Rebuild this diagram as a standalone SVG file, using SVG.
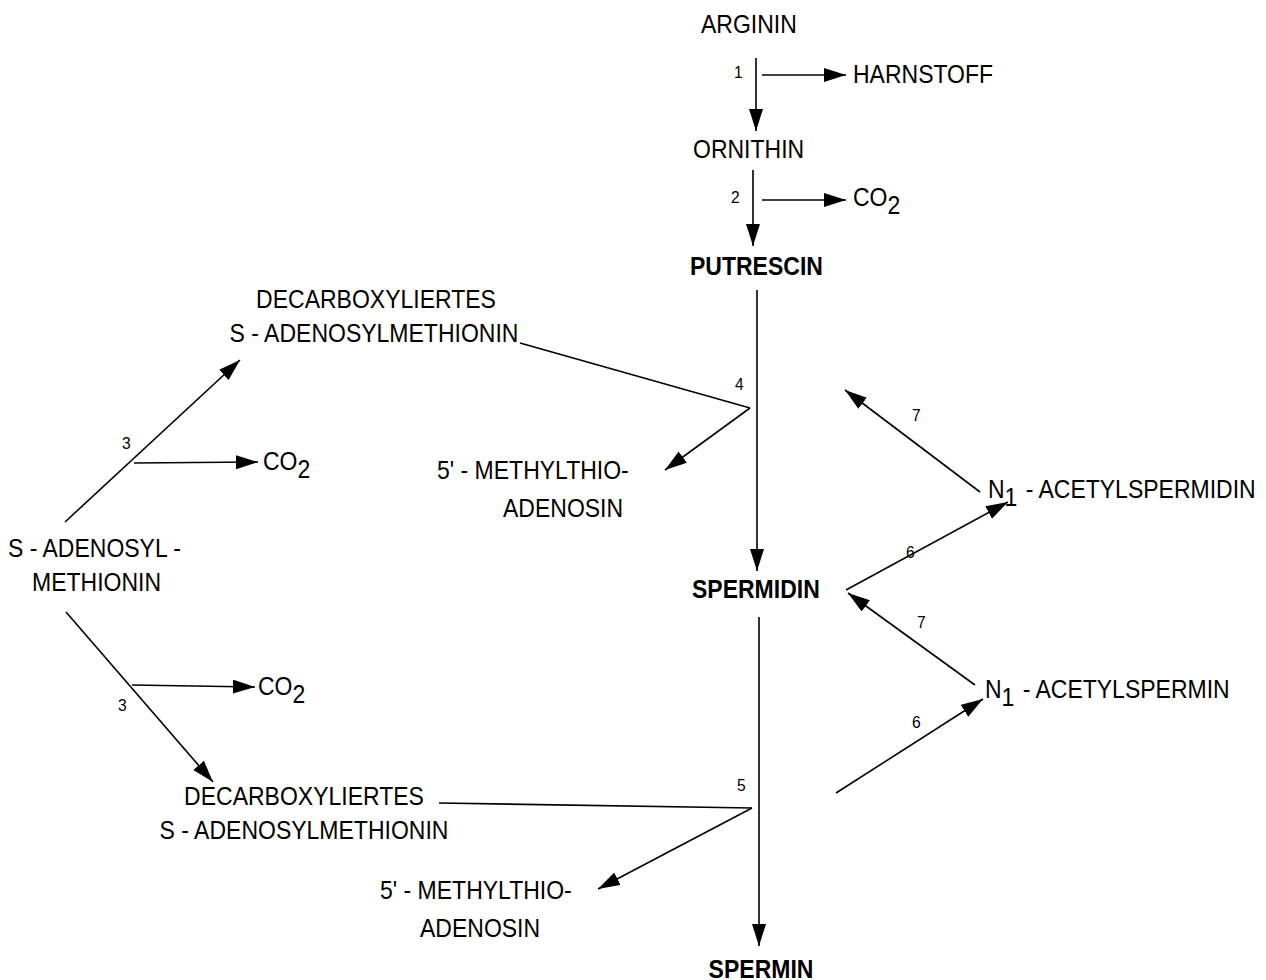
<svg xmlns="http://www.w3.org/2000/svg" width="1266" height="980" viewBox="0 0 1266 980">
<style>
text{font-family:"Liberation Sans",Arial,sans-serif;font-size:25px;fill:#000}
.b{font-weight:bold}
.n{font-size:17px}
.m{text-anchor:middle}
.c line{stroke:#000;stroke-width:1.6;fill:none}
</style>
<defs>
<marker id="ah" markerUnits="userSpaceOnUse" markerWidth="24" markerHeight="16" refX="22" refY="7" orient="auto">
<path d="M0,0 L22,7 L0,14 z" fill="#000"/>
</marker>
</defs>
<rect width="1266" height="980" fill="#fff"/>
<g class="c" id="connectors">
<line x1="756" y1="58" x2="756" y2="131" marker-end="url(#ah)"/>
<line x1="762" y1="75" x2="846" y2="75" marker-end="url(#ah)"/>
<line x1="753" y1="170" x2="753" y2="246" marker-end="url(#ah)"/>
<line x1="762" y1="200" x2="846" y2="200" marker-end="url(#ah)"/>
<line x1="757" y1="290" x2="757" y2="571" marker-end="url(#ah)"/>
<line x1="520" y1="343" x2="750" y2="408"/>
<line x1="750" y1="408" x2="665" y2="470" marker-end="url(#ah)"/>
<line x1="65" y1="522" x2="240" y2="360" marker-end="url(#ah)"/>
<line x1="134" y1="463" x2="258" y2="462" marker-end="url(#ah)"/>
<line x1="66" y1="612" x2="213" y2="782" marker-end="url(#ah)"/>
<line x1="132" y1="685" x2="255" y2="687" marker-end="url(#ah)"/>
<line x1="439" y1="803" x2="752" y2="808"/>
<line x1="752" y1="808" x2="598" y2="889" marker-end="url(#ah)"/>
<line x1="759" y1="617" x2="759" y2="946" marker-end="url(#ah)"/>
<line x1="846" y1="590" x2="1008" y2="502" marker-end="url(#ah)"/>
<line x1="980" y1="492" x2="845" y2="390" marker-end="url(#ah)"/>
<line x1="975" y1="685" x2="848" y2="593" marker-end="url(#ah)"/>
<line x1="836" y1="793" x2="983" y2="699" marker-end="url(#ah)"/>
</g>
<g id="labels">
<text class="n" transform="translate(734 78) scale(.92 1)">1</text>
<text class="n" transform="translate(731 203) scale(.92 1)">2</text>
<text class="n" transform="translate(735 390) scale(.92 1)">4</text>
<text class="n" transform="translate(122 449) scale(.92 1)">3</text>
<text class="n" transform="translate(118 711) scale(.92 1)">3</text>
<text class="n" transform="translate(737 791) scale(.92 1)">5</text>
<text class="n" transform="translate(906 558) scale(.92 1)">6</text>
<text class="n" transform="translate(912 421) scale(.92 1)">7</text>
<text class="n" transform="translate(917 628) scale(.92 1)">7</text>
<text class="n" transform="translate(912 728) scale(.92 1)">6</text>
</g>
<g id="arginin"><text transform="translate(701 33) scale(.92 1)">ARGININ</text></g>
<g id="harnstoff"><text transform="translate(853 83) scale(.92 1)">HARNSTOFF</text></g>
<g id="ornithin"><text transform="translate(693 158) scale(.92 1)">ORNITHIN</text></g>
<g id="co2-a"><text transform="translate(853 206) scale(.92 1)">CO<tspan dy="8">2</tspan></text></g>
<g id="putrescin"><text class="b" transform="translate(690 275) scale(.92 1)">PUTRESCIN</text></g>
<g id="dcsam-1"><text class="m" transform="translate(376 308) scale(.92 1)">DECARBOXYLIERTES</text><text class="m" transform="translate(374 342) scale(.92 1)">S - ADENOSYLMETHIONIN</text></g>
<g id="mta-1"><text transform="translate(437 479) scale(.92 1)">5' - METHYLTHIO-</text><text transform="translate(503 517) scale(.92 1)">ADENOSIN</text></g>
<g id="co2-b"><text transform="translate(263 470) scale(.92 1)">CO<tspan dy="8">2</tspan></text></g>
<g id="sam"><text transform="translate(8 557) scale(.92 1)">S - ADENOSYL -</text><text transform="translate(32 591) scale(.92 1)">METHIONIN</text></g>
<g id="co2-c"><text transform="translate(258 695) scale(.92 1)">CO<tspan dy="8">2</tspan></text></g>
<g id="spermidin"><text class="b" transform="translate(692 598) scale(.92 1)">SPERMIDIN</text></g>
<g id="dcsam-2"><text class="m" transform="translate(304 805) scale(.92 1)">DECARBOXYLIERTES</text><text class="m" transform="translate(304 839) scale(.92 1)">S - ADENOSYLMETHIONIN</text></g>
<g id="mta-2"><text transform="translate(380 899) scale(.92 1)">5' - METHYLTHIO-</text><text transform="translate(420 937) scale(.92 1)">ADENOSIN</text></g>
<g id="spermin"><text class="b m" transform="translate(761 978) scale(.92 1)">SPERMIN</text></g>
<g id="acspd"><text transform="translate(988 498) scale(.92 1)">N<tspan dy="8">1</tspan><tspan x="34" dy="-8"> - ACETYLSPERMIDIN</tspan></text></g>
<g id="acspm"><text transform="translate(985 698) scale(.92 1)">N<tspan dy="8">1</tspan><tspan x="34" dy="-8"> - ACETYLSPERMIN</tspan></text></g>
</svg>
